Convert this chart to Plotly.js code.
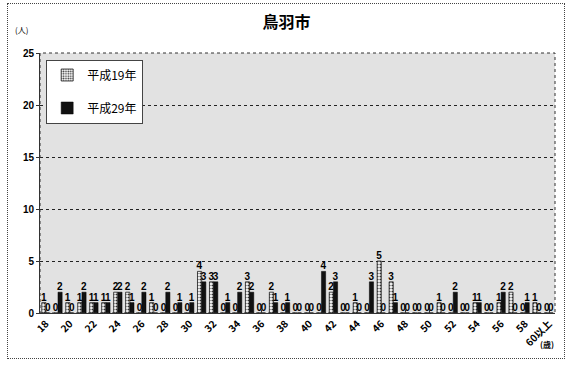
<!DOCTYPE html>
<html>
<head>
<meta charset="utf-8">
<script src="https://cdn.plot.ly/plotly-3.0.1.min.js"></script>
<style>
  html, body { margin: 0; padding: 0; background: #fff; }
  #wrap { position: relative; width: 573px; height: 365px; }
  #chart { width: 573px; height: 365px; }
  #frame { position: absolute; left: 7px; top: 3px; width: 556px; height: 354px; border: 1px dotted #444; pointer-events: none; }
</style>
</head>
<body>
<div id="wrap">
  <div id="chart"></div>
  <div id="frame"></div>
</div>
<script>
// Categories: ages 18..59 and 60以上
const ages = ['18','19','20','21','22','23','24','25','26','27','28','29','30','31','32','33','34','35','36','37','38','39','40','41','42','43','44','45','46','47','48','49','50','51','52','53','54','55','56','57','58','59','60以上'];
const h19 = [1,0,1,1,1,1,2,2,0,1,0,0,0,4,3,0,0,3,0,2,0,0,0,0,2,0,1,0,5,3,0,0,0,1,0,0,1,0,1,2,0,1,0];
const h29 = [0,2,0,2,1,1,2,1,2,0,2,1,1,3,3,1,2,2,0,1,1,0,0,4,3,0,0,3,0,1,0,0,0,0,2,0,1,0,2,0,1,0,0];
const tickAges = ['18','20','22','24','26','28','30','32','34','36','38','40','42','44','46','48','50','52','54','56','58','60以上'];
const seriesNames = ['平成19年','平成29年'];

const jp = '"Noto Sans CJK JP", "Noto Sans", sans-serif';
const labelFont = {family: 'Liberation Sans Narrow, Liberation Sans, sans-serif', size: 10, color: '#000', weight: 'bold'};

const traces = [
  {
    type: 'bar', name: seriesNames[0], x: ages, y: h19,
    text: h19.map(String), textposition: 'outside', cliponaxis: false,
    textfont: labelFont, outsidetextfont: labelFont, insidetextfont: labelFont,
    constraintext: 'none',
    marker: {color: '#ffffff', line: {color: '#222', width: 0.8},
             pattern: {shape: '.', fgcolor: '#333', bgcolor: '#fff', size: 3, solidity: 0.4}},
    legendgroup: 'a'
  },
  {
    type: 'bar', name: seriesNames[1], x: ages, y: h29,
    text: h29.map(String), textposition: 'outside', cliponaxis: false,
    textfont: labelFont, outsidetextfont: labelFont, insidetextfont: labelFont,
    constraintext: 'none',
    marker: {color: '#111111', line: {color: '#000', width: 0.5}},
    legendgroup: 'b'
  }
];

const layout = {
  width: 573, height: 365,
  margin: {l: 40, r: 18, t: 53, b: 52},
  paper_bgcolor: '#ffffff',
  plot_bgcolor: '#e2e2e2',
  font: {family: jp, color: '#000'},
  title: {text: '<b>鳥羽市</b>', font: {family: jp, size: 16, color: '#000'},
          x: 0.5, xref: 'container', y: 0.94, yref: 'container', yanchor: 'middle'},
  barmode: 'group', bargap: 0.3, bargroupgap: 0,
  showlegend: true,
  legend: {x: 0.012, y: 0.975, xanchor: 'left', yanchor: 'top',
           bgcolor: '#ffffff', bordercolor: '#444', borderwidth: 1,
           font: {family: jp, size: 12, color: '#000'},
           traceorder: 'grouped', tracegroupgap: 14, itemwidth: 30},
  xaxis: {
    type: 'category', tickmode: 'array', tickvals: tickAges, ticktext: tickAges,
    tickangle: -45, tickfont: {family: jp, size: 10, color: '#000', weight: 'bold'},
    ticks: 'inside', ticklen: 3, tickcolor: '#333',
    showline: true, linecolor: '#333', linewidth: 1,
    showgrid: false, zeroline: false
  },
  yaxis: {
    range: [0, 25], dtick: 5, tickmode: 'linear',
    tickfont: {family: 'Liberation Sans, sans-serif', size: 10, color: '#000', weight: 'bold'},
    ticks: 'outside', ticklen: 3, tickcolor: '#333',
    showgrid: true, gridcolor: '#222', griddash: 'dot', gridwidth: 1,
    showline: true, linecolor: '#333', linewidth: 1,
    zeroline: false
  },
  shapes: [
    {type: 'rect', xref: 'paper', yref: 'paper', x0: 0, x1: 1, y0: 0, y1: 1,
     line: {color: '#333', width: 1, dash: 'dot'}}
  ],
  annotations: [
    {text: '(人)', xref: 'paper', yref: 'paper', x: -0.035, y: 1.09, xanchor: 'center', yanchor: 'middle',
     showarrow: false, font: {family: jp, size: 8, color: '#000'}},
    {text: '(歳)', xref: 'paper', yref: 'paper', x: 0.985, y: -0.12, xanchor: 'center', yanchor: 'middle',
     showarrow: false, font: {family: jp, size: 8, color: '#000', weight: 'bold'}}
  ]
};

Plotly.newPlot('chart', traces, layout, {displayModeBar: false, staticPlot: true});
</script>
</body>
</html>
